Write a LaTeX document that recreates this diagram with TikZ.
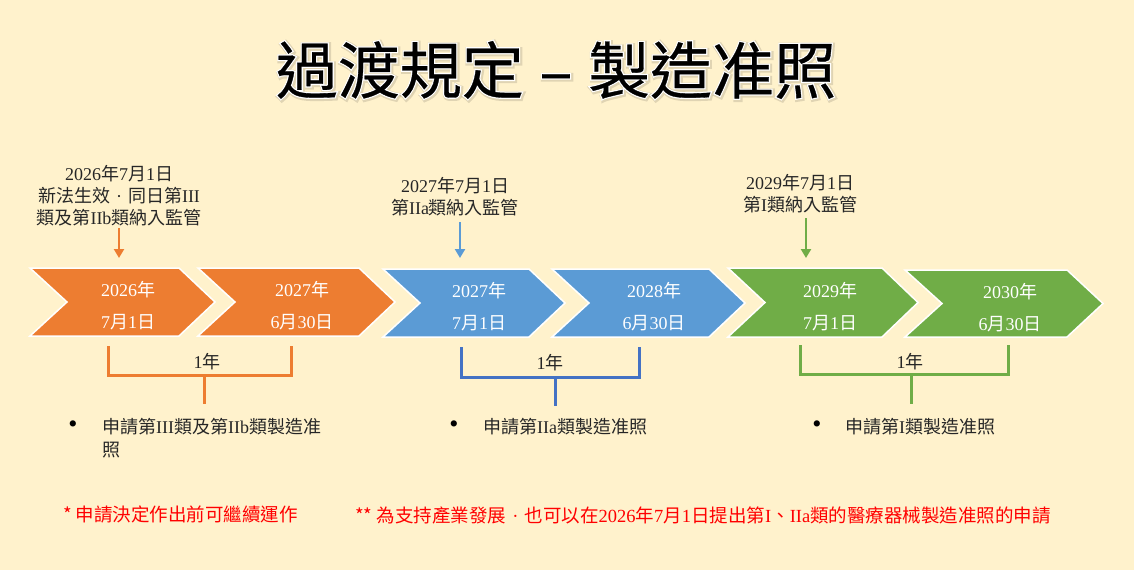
\documentclass[tikz,border=0pt]{standalone}
\usepackage{fontspec}
\setmainfont{Noto Sans CJK TC}
\newfontfamily\tm{Liberation Serif}
\newfontfamily\ttlfont[FakeBold=0.5]{Noto Sans CJK TC}
\newfontfamily\ttlglow[FakeBold=4.5]{Noto Sans CJK TC}
\newfontfamily\ttlshade[FakeBold=8]{Noto Sans CJK TC}
\newcommand\T[1]{{\tm #1}}
\newcommand\mdot{\makebox[1em]{\tm ·}}
\usetikzlibrary{arrows.meta}
\definecolor{bg}{HTML}{FFF2CC}
\definecolor{cor}{HTML}{ED7D31}
\definecolor{cbl}{HTML}{5B9BD5}
\definecolor{cbd}{HTML}{4472C4}
\definecolor{cgr}{HTML}{70AD47}
\definecolor{cred}{HTML}{FF0000}
\definecolor{ctx}{HTML}{262626}
\tikzset{
  chevron/.style={fill=#1, draw=white, line width=1.5pt, line join=miter},
  chevtext/.style={text=white, align=center, font=\fontsize{18}{32}\selectfont, inner sep=0pt},
  toplabel/.style={text=ctx, align=center, font=\fontsize{18}{22}\selectfont, inner sep=0pt},
  pointer/.style={draw=#1, line width=2.5pt, -{Triangle[width=10pt,length=9pt]}},
  bracket/.style={draw=#1, line width=3pt},
  yearlbl/.style={text=ctx, font=\fontsize{18}{22}\selectfont, inner sep=0pt},
  bulletdot/.style={text=black, font=\tm\fontsize{26}{26}\selectfont, inner sep=0pt},
  bullettext/.style={text=ctx, font=\fontsize{18}{23}\selectfont, align=left, anchor=west, inner sep=0pt},
  note/.style={text=cred, font=\fontsize{18.5}{20}\selectfont, anchor=west, inner sep=0pt},
  titletext/.style={font={#1\fontsize{62}{70}\selectfont}, inner sep=0pt},
}
\newcommand\chevr[5]{% L, R, T, B, colour
  \path[chevron=#5] (#1,#3) -- (#2-36,#3) -- (#2,{(#3+#4)/2}) -- (#2-36,#4) -- (#1,#4) -- (#1+37,{(#3+#4)/2}) -- cycle;}
\newcommand\ttl{過渡規定\hspace{0.25em}–\hspace{0.25em}製造准照}
\begin{document}
\begin{tikzpicture}[x=1pt,y=-1pt]
\useasboundingbox (0,0) rectangle (1134,570);
\fill[bg] (0,0) rectangle (1134,570);

% title with glow
\node[titletext=\ttlshade, text=black, opacity=0.12] (tshade) at (557,71) {\ttl};
\node[titletext=\ttlglow, text=white] (tglow) at (556,70) {\ttl};
\node[titletext=\ttlfont, text=black] (title) at (556,70) {\ttl};

% chevrons
\chevr{30}{215}{268}{336}{cor}
\chevr{198}{395}{268}{336}{cor}
\chevr{383}{565}{269}{337}{cbl}
\chevr{552}{745}{269}{337}{cbl}
\chevr{728}{918}{268}{337}{cgr}
\chevr{905}{1103}{270}{337}{cgr}

\node[chevtext] (c1) at (128,306) {\T{2026}年\\\T{7}月\T{1}日};
\node[chevtext] (c2) at (302,306) {\T{2027}年\\\T{6}月\T{30}日};
\node[chevtext] (c3) at (479,306.5) {\T{2027}年\\\T{7}月\T{1}日};
\node[chevtext] (c4) at (654,306.5) {\T{2028}年\\\T{6}月\T{30}日};
\node[chevtext] (c5) at (830,306.5) {\T{2029}年\\\T{7}月\T{1}日};
\node[chevtext] (c6) at (1010,308) {\T{2030}年\\\T{6}月\T{30}日};

% top labels
\node[toplabel] (l1) at (119,195.5) {\T{2026}年\T{7}月\T{1}日\\新法生效\mdot 同日第\T{III}\\類及第\T{IIb}類納入監管};
\node[toplabel] (l2) at (455,196.5) {\T{2027}年\T{7}月\T{1}日\\第\T{IIa}類納入監管};
\node[toplabel] (l3) at (800,194) {\T{2029}年\T{7}月\T{1}日\\第\T{I}類納入監管};

\coordinate (a1s) at (119,228); \coordinate (a1e) at (119,258);
\coordinate (a2s) at (460,222); \coordinate (a2e) at (460,258);
\coordinate (a3s) at (806,218); \coordinate (a3e) at (806,258);
\draw[pointer=cor] (a1s) -- (a1e);
\draw[pointer=cbl] (a2s) -- (a2e);
\draw[pointer=cgr] (a3s) -- (a3e);

% brackets
\draw[bracket=cor] (108,346) -- (108,375) -- (291,375) -- (291,346);
\draw[bracket=cor] (204,375) -- (204,404);
\draw[bracket=cbd] (461,347) -- (461,377) -- (639,377) -- (639,347);
\draw[bracket=cbd] (555,377) -- (555,406);
\draw[bracket=cgr] (800,345) -- (800,374) -- (1008,374) -- (1008,345);
\draw[bracket=cgr] (911,374) -- (911,404);

\node[yearlbl] (y1) at (207,362) {\T{1}年};
\node[yearlbl] (y2) at (550,363) {\T{1}年};
\node[yearlbl] (y3) at (910,362) {\T{1}年};

% bullets
\node[bulletdot] (d1) at (73,427) {•};
\node[bullettext] (t1) at (102,438.5) {申請第\T{III}類及第\T{IIb}類製造准\\照};
\node[bulletdot] (d2) at (454,427) {•};
\node[bullettext] (t2) at (483,427) {申請第\T{IIa}類製造准照};
\node[bulletdot] (d3) at (817,427) {•};
\node[bullettext] (t3) at (845,427) {申請第\T{I}類製造准照};

% notes
\node[note] (n1) at (63,515) {* 申請決定作出前可繼續運作};
\node[note] (n2) at (355,515) {** 為支持產業發展\mdot 也可以在\T{2026}年\T{7}月\T{1}日提出第\T{I}、\T{IIa}類的醫療器械製造准照的申請};
\end{tikzpicture}
\end{document}
